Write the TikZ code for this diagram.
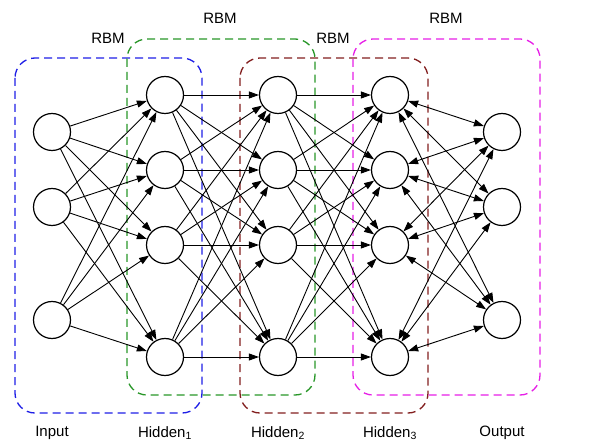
\documentclass[tikz,border=0pt]{standalone}
\usepackage{fontspec}
\setmainfont{Liberation Sans}
\usetikzlibrary{arrows.meta}
\definecolor{cblue}{RGB}{30,30,230}
\definecolor{cgreen}{RGB}{40,150,40}
\definecolor{cred}{RGB}{130,30,30}
\definecolor{cmag}{RGB}{230,30,230}
\begin{document}
\begin{tikzpicture}[x=1pt,y=-1pt,
  neuron/.style={circle,draw=black,line width=1.2pt,minimum size=37pt,inner sep=0pt,fill=white},
  conn/.style={line width=0.9pt,-{Triangle[length=10pt,width=7pt]}},
  biconn/.style={line width=0.9pt,{Triangle[length=10pt,width=7pt]}-{Triangle[length=10pt,width=7pt]}},
  rbmbox/.style={line width=1.3pt,dash pattern=on 8pt off 5pt,rounded corners=20pt},
  lbl/.style={font=\fontsize{15}{18}\selectfont,inner sep=0pt},
  ]
\useasboundingbox (0,0) rectangle (589,446);
% boxes
\draw[rbmbox,cblue] (15,58) rectangle (202,413);
\draw[rbmbox,cgreen] (127,39) rectangle (315,395);
\draw[rbmbox,cred] (240,58) rectangle (428,413);
\draw[rbmbox,cmag] (353,39) rectangle (540,395);
% neurons
\foreach \i/\y in {1/132,2/207,3/320}{
  \node[neuron] (i\i) at (52,\y) {};
  \node[neuron] (o\i) at (502,\y) {};
}
\foreach \j/\y in {1/95,2/170,3/245,4/357}{
  \node[neuron] (a\j) at (165,\y) {};
  \node[neuron] (b\j) at (278,\y) {};
  \node[neuron] (c\j) at (390,\y) {};
}
% connections
\foreach \i in {1,2,3}{\foreach \j in {1,2,3,4}{\draw[conn] (i\i) -- (a\j);}}
\foreach \i in {1,2,3,4}{\foreach \j in {1,2,3,4}{\draw[conn] (a\i) -- (b\j);}}
\foreach \i in {1,2,3,4}{\foreach \j in {1,2,3,4}{\draw[conn] (b\i) -- (c\j);}}
\foreach \i in {1,2,3,4}{\foreach \j in {1,2,3}{\draw[biconn] (c\i) -- (o\j);}}
% labels
\node[lbl] (r1) at (108,38) {RBM};
\node[lbl] (r2) at (220,18) {RBM};
\node[lbl] (r3) at (333,38) {RBM};
\node[lbl] (r4) at (446,18) {RBM};
\node[lbl] (l1) at (52,433) {Input};
\node[lbl] (l2) at (165,433) {Hidden\textsubscript{1}};
\node[lbl] (l3) at (278,433) {Hidden\textsubscript{2}};
\node[lbl] (l4) at (390,433) {Hidden\textsubscript{3}};
\node[lbl] (l5) at (502,433) {Output};
\end{tikzpicture}
\end{document}
